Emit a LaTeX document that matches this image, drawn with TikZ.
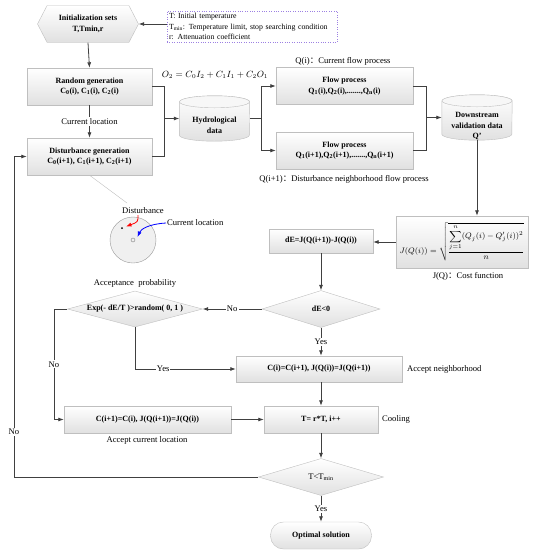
\documentclass[tikz,border=0pt]{standalone}
\usepackage{amsmath}
\usepackage{fontspec}
\setmainfont{Liberation Serif}
\newfontfamily\cjk{Noto Sans CJK SC}
\usetikzlibrary{shapes.geometric,shapes.symbols,arrows.meta}
\newcommand{\cc}{{\cjk ：}}
\hyphenpenalty=10000
\begin{document}
\begin{tikzpicture}[>={Latex[length=5.5pt,width=4pt]},x=1pt,y=-1pt,
    line/.style={draw=black!75, line width=0.8pt},
    arr/.style={line, ->},
    shade/.style={draw=black!25, top color=white, bottom color=black!12},
    box/.style={shade, inner sep=0pt, align=center, font=\fontsize{8}{10.5}\selectfont\bfseries},
    dia/.style={box, diamond},
    db/.style={minimum width=70, minimum height=45, inner sep=0pt},
    dbtext/.style={align=center, inner sep=0pt, font=\fontsize{8}{10.5}\selectfont\bfseries},
    lbl/.style={font=\fontsize{8.6}{10}\selectfont, inner sep=1pt},
    onl/.style={lbl, fill=white}]
  \useasboundingbox (0,0) rectangle (534,550);
  % left column
  \node[box, signal, signal to=west and east, signal pointer angle=125, minimum width=101, minimum height=37] (init) at (88,24) {Initialization sets\\T,Tmin,r};
  \node[draw=blue!55!violet!50, dotted, text width=166, inner sep=2pt, minimum height=31, align=left, font=\fontsize{7.8}{10.5}\selectfont] (note) at (252,26.5) {T: Initial temperature\\T\textsubscript{min}: Temperature limit, stop searching condition\\r: Attenuation coefficient};
  \node[box, minimum width=125, minimum height=37] (rand) at (89.5,86.5) {Random generation\\C\textsubscript{0}(i), C\textsubscript{1}(i), C\textsubscript{2}(i)};
  \node[box, minimum width=125, minimum height=37] (dist) at (89.5,156.5) {Disturbance generation\\C\textsubscript{0}(i+1), C\textsubscript{1}(i+1), C\textsubscript{2}(i+1)};
  % data and flow
  \node[db] (hydro) at (214.5,118.5) {};
  \node[db] (down) at (477,117.5) {};
  \foreach \n in {hydro,down}{
    \path[shade] ([yshift=-6pt]\n.north west) -- ([yshift=6pt]\n.south west) arc (180:0:35 and 6) -- ([yshift=-6pt]\n.north east) arc (0:-180:35 and 6) -- cycle;
    \draw[black!25, fill=black!3] ([yshift=-6pt]\n.north) ellipse (35 and 6);
  }
  \node[dbtext] (hydrotxt) at ([yshift=-7pt]hydro.center) {Hydrological\\data};
  \node[dbtext] (downtxt) at ([yshift=-9pt]down.center) {Downstream\\validation data\\Q'};
  \node[lbl] (musk) at (215,75) {$O_2=C_0I_2+C_1I_1+C_2O_1$};
  \node[box, minimum width=137, minimum height=37] (flowA) at (344.5,86) {Flow process\\Q\textsubscript{1}(i),Q\textsubscript{2}(i),.......,Q\textsubscript{n}(i)};
  \node[box, minimum width=137, minimum height=37] (flowB) at (344.5,150.5) {Flow process\\Q\textsubscript{1}(i+1),Q\textsubscript{2}(i+1),.......,Q\textsubscript{n}(i+1)};
  \node[lbl] (flowAlbl) at (343,61) {Q(i)\cc Current flow process};
  \node[lbl] (flowBlbl) at (344,179) {Q(i+1)\cc Disturbance neighborhood flow process};
  \node[box, minimum width=132, minimum height=52, font=\fontsize{8}{10}\selectfont] (cost) at (462,242) {$J(Q(i))=\sqrt{\dfrac{\displaystyle\sum_{j=1}^{n}(Q_j(i)-Q_j'(i))^2}{n}}$};
  \node[lbl] (costlbl) at (468,276) {J(Q)\cc Cost function};
  % annealing loop
  \node[box, minimum width=104, minimum height=24] (dE) at (321,241) {dE=J(Q(i+1))-J(Q(i))};
  \node[dia, minimum width=118, minimum height=37, aspect=3.2] (neg) at (321,309) {dE<0};
  \node[dia, minimum width=135, minimum height=36, aspect=3.75] (acpt) at (135,309) {Exp(- dE/T )>random( 0, 1 )};
  \node[lbl] (acptlbl) at (135,283) {Acceptance\ \ probability};
  \node[box, minimum width=166, minimum height=26] (nbr) at (319,369) {C(i)=C(i+1), J(Q(i))=J(Q(i+1))};
  \node[lbl, anchor=west] (nbrlbl) at (406,369) {Accept neighborhood};
  \node[box, minimum width=167, minimum height=27] (keep) at (147.5,419.5) {C(i+1)=C(i), J(Q(i+1))=J(Q(i))};
  \node[lbl] (keeplbl) at (147,440) {Accept current location};
  \node[box, minimum width=114, minimum height=27] (cool) at (321,419.5) {T= r*T, i++};
  \node[lbl, anchor=west] (coollbl) at (381,419.5) {Cooling};
  \node[dia, minimum width=125, minimum height=37, aspect=3.4, font=\fontsize{8.6}{10}\selectfont] (stop) at (321,477) {T<T\textsubscript{min}};
  \node[box, rounded corners=13, minimum width=101, minimum height=27] (opt) at (321,535.5) {Optimal solution};
  % connectors
  \coordinate (inA) at (164,118.5);
  \coordinate (outA) at (261,118.5);
  \coordinate (inB) at (426,117.5);
  \coordinate (noA) at (54,309);
  \coordinate (noB) at (14,477);
  \draw[arr] (note.west |- init.east) -- (init.east);
  \draw[arr] (init.south) -- (rand.north);
  \draw[arr] (rand.south) -- node[onl]{Current location} (dist.north);
  \draw[line] (rand.east) -| (inA);
  \draw[line] (dist.east) -| (inA);
  \draw[arr] (inA) -- (hydro.west);
  \draw[line] (hydro.east) -- (outA);
  \draw[arr] (outA) |- (flowA.west);
  \draw[arr] (outA) |- (flowB.west);
  \draw[line] (flowA.east) -| (inB);
  \draw[line] (flowB.east) -| (inB);
  \draw[arr] (inB) -- (down.west);
  \draw[arr] (down.south) -- (down.south |- cost.north);
  \draw[arr] (cost.west) -- (cost.west -| dE.east);
  \draw[arr] (dE.south) -- (neg.north);
  \draw[arr] (neg.west) -- node[onl]{No} (acpt.east);
  \draw[arr] (neg.south) -- node[onl]{Yes} (neg.south |- nbr.north);
  \draw[arr] (acpt.south) |- node[onl, pos=0.64]{Yes} (nbr.west);
  \draw[arr] (acpt.west) -- (noA) |- node[onl, pos=0.25]{No} (keep.west);
  \draw[arr] (nbr.south -| cool.north) -- (cool.north);
  \draw[arr] (keep.east) -- (cool.west);
  \draw[arr] (cool.south) -- (stop.north);
  \draw[arr] (stop.south) -- node[onl]{Yes} (opt.north);
  \draw[arr] (stop.west) -- (noB) |- node[onl, pos=0.07]{No} (dist.west);
  % neighbourhood sketch
  \node[lbl] (dlbl) at (143,211) {Disturbance};
  \node[lbl, anchor=west] (clbl) at (166,223) {Current location};
  \coordinate (dend) at (127,203);
  \draw[black!25] (dist.south) -- (dend);
  \draw[black!40, fill=black!6] (133,240) circle (23pt);
  \draw[black!50] (133,240) circle (2pt);
  \fill (122,228) circle (1pt);
  \draw[->, red, line width=0.8pt] (138,215) .. controls (138,222) .. (126,226.5);
  \draw[->, blue, line width=0.8pt] (clbl.west) .. controls (149,224) and (141,229) .. (137.5,237);
\end{tikzpicture}
\end{document}
